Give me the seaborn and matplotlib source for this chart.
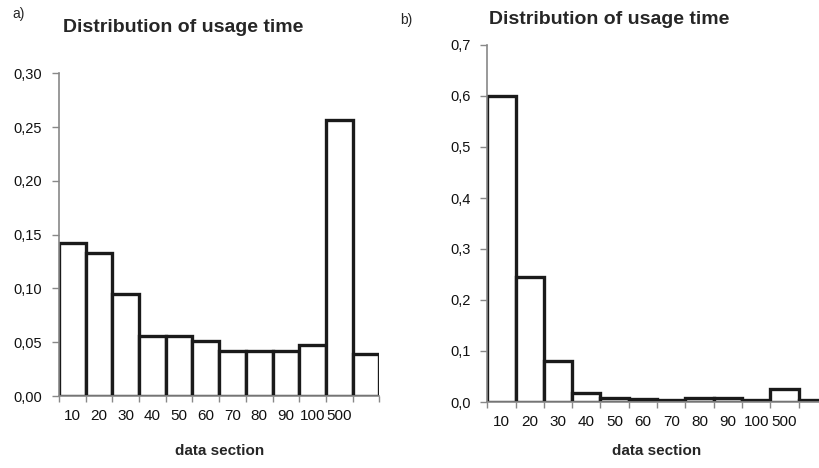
import matplotlib
matplotlib.use("Agg")
import matplotlib.pyplot as plt
import seaborn as sns
import pandas as pd
from matplotlib.ticker import FuncFormatter, MultipleLocator

# bins of usage time (last bin has no label in the original)
sections = ["10", "20", "30", "40", "50", "60", "70", "80", "90", "100", "500", ">500"]
tick_labels = ["10", "20", "30", "40", "50", "60", "70", "80", "90", "100", "500", ""]

# panel a)
share_a = [0.142, 0.133, 0.095, 0.056, 0.056, 0.051, 0.042, 0.042, 0.042, 0.047, 0.257, 0.039]
# panel b)
share_b = [0.600, 0.245, 0.080, 0.018, 0.008, 0.006, 0.003, 0.007, 0.007, 0.004, 0.026, 0.003]

sns.set_style("white")
plt.rcParams["font.family"] = ["Liberation Sans", "DejaVu Sans"]

fig = plt.figure(figsize=(8.2, 4.68), dpi=100)
W, H = 820, 468


def px_axes(x0, x1, ytop, ybot):
    return fig.add_axes([x0 / W, 1 - ybot / H, (x1 - x0) / W, (ybot - ytop) / H])


ax_a = px_axes(59, 379.3, 73.3, 396)
ax_b = px_axes(487.3, 487.3 + 12 * 28.3, 45, 402)


def draw(ax, vals, ymax, step, fmt, label_y):
    df = pd.DataFrame({"section": sections, "share": vals})
    sns.barplot(data=df, x="section", y="share", order=sections, color="white",
                saturation=1, edgecolor="#1a1a1a", linewidth=2.4, width=1.0, ax=ax)
    ax.set_xlim(-0.5, 11.5)
    ax.set_ylim(0, ymax)
    ax.yaxis.set_major_locator(MultipleLocator(step))
    ax.yaxis.set_major_formatter(FuncFormatter(lambda v, p: fmt.format(v).replace(".", ",")))
    ax.set_xticks(range(12))
    ax.set_xticklabels(tick_labels)
    ax.set_xticks([i - 0.5 for i in range(13)], minor=True)
    ax.tick_params(axis="x", which="major", length=0, pad=9, labelsize=11, colors="#111111")
    ax.tick_params(axis="x", which="minor", length=4, width=1, color="#888888", direction="out")
    ax.tick_params(axis="y", length=5, width=1, color="#888888", direction="out",
                   labelsize=10.5, labelcolor="#111111", pad=7)
    ax.tick_params(bottom=True, left=True, which="both")
    for s in ["top", "right"]:
        ax.spines[s].set_visible(False)
    for s in ["left", "bottom"]:
        ax.spines[s].set_color("#888888")
        ax.spines[s].set_linewidth(1.2)
    ax.set_ylabel("")
    ax.set_xlabel("data section", fontsize=11, fontweight="bold")
    ax.xaxis.set_label_coords(0.5, label_y)
    ax.grid(False)


draw(ax_a, share_a, 0.30, 0.05, "{:.2f}", -0.15)
draw(ax_b, share_b, 0.70, 0.1, "{:.1f}", -0.118)

fig.text(12 / W, 1 - 14 / H, "a)", fontsize=10, va="center", ha="left")
fig.text(63 / W, 1 - 27 / H, "Distribution of usage time", fontsize=14,
         fontweight="bold", va="center", ha="left")
fig.text(400 / W, 1 - 20 / H, "b)", fontsize=10, va="center", ha="left")
fig.text(489 / W, 1 - 19 / H, "Distribution of usage time", fontsize=14,
         fontweight="bold", va="center", ha="left")

fig.savefig("out.png", dpi=100, facecolor="white")
